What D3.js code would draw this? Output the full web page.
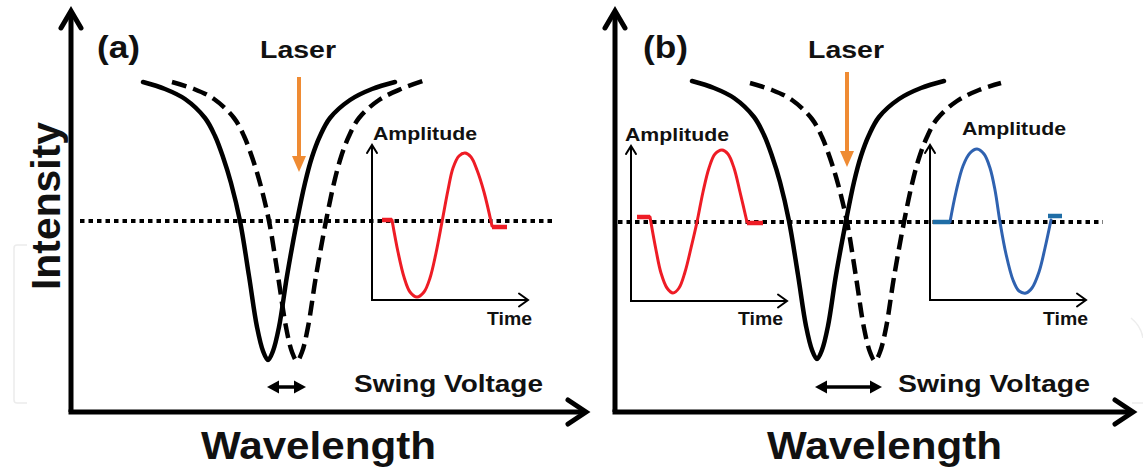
<!DOCTYPE html>
<html><head><meta charset="utf-8">
<script src="https://cdn.jsdelivr.net/npm/d3@7"></script>
<style>body{margin:0;background:#fff}svg{display:block}</style>
</head><body>
<svg id="c" width="1143" height="474"></svg>
<script>
// ---------- DATA (wavelength offset, intensity) ----------
const solidA = [[72,330],[94,323],[114,313],[134,294],[144,276],[152,255],[160,229],[169,191],[178,136],[186,85],[192,61],[197,52],[202,61],[208,85],[216,136],[226,191],[234,229],[241,255],[249,276],[259,294],[279,312],[301,323],[324,330]];
const dashedA = [[101,330],[123,323],[143,313],[163,294],[173,276],[181,255],[189,229],[198,191],[207,136],[215,85],[221,60],[226,51],[231,60],[237,85],[245,136],[255,191],[263,229],[270,255],[278,276],[288,294],[308,312],[330,323],[352,331]];
const solidB = [[77,331],[99,324],[119,314],[139,295],[149,277],[157,256],[165,230],[174,191],[183,137],[191,86],[197,62],[202,53],[207,62],[213,86],[221,137],[231,191],[239,230],[246,256],[254,277],[264,295],[284,313],[306,324],[329,331]];
const dashedB = [[135,329],[157,322],[177,312],[197,293],[207,275],[215,254],[223,228],[232,190],[241,135],[249,84],[255,60],[260,51],[265,60],[271,84],[279,135],[289,190],[297,228],[304,254],[312,275],[322,293],[342,311],[364,322],[386,329]];

// bias level (dotted line), laser position, swing range
const biasA = 191, biasB = 190;
const dottedA = [9, 484], dottedB = [3, 488];
const laserA = {wl: 228, from: 335, to: 240};
const laserB = {wl: 232, from: 340, to: 245};
const swingA = [196, 235], swingB = [200, 267];
const swingLevel = 25;

// inset waveforms (time offset, amplitude offset)
const waveA = [[20,80],[26,48],[32,23],[38,8],[45,3],[52,8],[58,22],[64,47],[70,78],[76,110],[81,132],[87,144],[93,147],[99,143],[105,130],[112,108],[120,74]];
const flatsA = [[[10,80],[20,80]], [[120,73],[135,73]]];
const waveBL = [[19,84],[25,51],[30,28],[36,13],[42,8],[48,13],[54,29],[60,53],[66,79],[72,109],[78,133],[84,147],[91,151],[97,147],[103,133],[109,109],[116,79]];
const flatsBL = [[[6,84],[19,84]], [[116,78],[132,78]]];
const waveBR = [[20,78],[26,108],[33,134],[40,147],[47,151],[54,146],[60,132],[65,110],[70,78],[76,46],[83,20],[89,9],[96,7],[102,12],[109,28],[115,52],[121,80]];
const flatsBR = [[[3,78],[20,78]], [[118,84],[132,84]]];

const labels = {panelA: "(a)", panelB: "(b)", laser: "Laser", amp: "Amplitude", time: "Time", swing: "Swing Voltage", xlab: "Wavelength", ylab: "Intensity"};

// ---------- DRAW ----------
const svg = d3.select('#c');
const FONT = '"Liberation Sans", Arial, Helvetica, sans-serif';
const RED = '#ee1c25', BLUE = '#2f62b0', BLUEF = '#1f6da6', ORANGE = '#ef8b33';

// faint scan artifacts at the edges
svg.append('path').attr('d','M27,245H17Q14,245 14,248V400Q14,403 17,403H27').attr('fill','none').attr('stroke','#ececec').attr('stroke-width',1.5);
svg.append('path').attr('d','M1131,318Q1141,326 1143,338').attr('fill','none').attr('stroke','#ededed').attr('stroke-width',1.5);
svg.append('path').attr('d','M1132,403H1143').attr('fill','none').attr('stroke','#ededed').attr('stroke-width',1.5);

function chevron(g, x, y, dir, len, half, w) {
  const d = dir === 'up' ? `M${x-half},${y+len}L${x},${y}L${x+half},${y+len}`
                         : `M${x-len},${y-half}L${x},${y}L${x-len},${y+half}`;
  g.append('path').attr('d', d).attr('fill','none').attr('stroke','#000')
    .attr('stroke-width', w).attr('stroke-linejoin','miter').attr('stroke-linecap','round');
}
function text(g, x, y, s, size, len, rot) {
  const t = g.append('text').attr('font-family', FONT).attr('font-weight','bold')
    .attr('font-size', size).attr('fill','#111').text(s)
    .attr('textLength', len).attr('lengthAdjust','spacingAndGlyphs');
  if (rot) t.attr('transform', `translate(${x},${y}) rotate(-90)`);
  else t.attr('x', x).attr('y', y);
  return t;
}

function panel(cfg) {
  const g = svg.append('g');
  const x = d3.scaleLinear().domain([0, cfg.xMax]).range([cfg.ox, cfg.ox + cfg.xMax]);
  const y = d3.scaleLinear().domain([0, 402]).range([412, 10]);
  // main axes
  g.append('line').attr('x1', x(0)).attr('y1', y(0)).attr('x2', x(0)).attr('y2', y(400)).attr('stroke','#000').attr('stroke-width',5);
  g.append('line').attr('x1', x(0)-2.5).attr('y1', y(0)).attr('x2', x(cfg.xMax)-3).attr('y2', y(0)).attr('stroke','#000').attr('stroke-width',5);
  chevron(g, x(0), y(402)+1, 'up', 17, 10, 5);
  chevron(g, x(cfg.xMax), y(0), 'right', 18, 12, 5);

  // dotted bias line
  g.append('line').attr('x1', x(cfg.dotted[0])).attr('x2', x(cfg.dotted[1]))
    .attr('y1', y(cfg.bias)).attr('y2', y(cfg.bias))
    .attr('stroke','#000').attr('stroke-width',4).attr('stroke-dasharray','4.5,4');

  const line = d3.line().x(d => x(d[0])).y(d => y(d[1])).curve(d3.curveCatmullRom.alpha(0.5));
  g.append('path').attr('d', line(cfg.solid)).attr('fill','none').attr('stroke','#000').attr('stroke-width',4.5).attr('stroke-linecap','round');
  g.append('path').attr('d', line(cfg.dashed)).attr('fill','none').attr('stroke','#000').attr('stroke-width',4.5).attr('stroke-dasharray','15,7');

  // laser arrow
  const lx = x(cfg.laser.wl), ly0 = y(cfg.laser.from), ly1 = y(cfg.laser.to);
  g.append('line').attr('x1', lx).attr('x2', lx).attr('y1', ly0).attr('y2', ly1 - 12).attr('stroke', ORANGE).attr('stroke-width',4);
  g.append('path').attr('d', `M${lx-7},${ly1-16}L${lx+7},${ly1-16}L${lx},${ly1}Z`).attr('fill', ORANGE);

  // swing double arrow
  const sx0 = x(cfg.swing[0]), sx1 = x(cfg.swing[1]), sy = y(swingLevel);
  g.append('line').attr('x1', sx0 + 8).attr('x2', sx1 - 8).attr('y1', sy).attr('y2', sy).attr('stroke','#000').attr('stroke-width',3.5);
  g.append('path').attr('d', `M${sx0},${sy}L${sx0+12},${sy-6.5}L${sx0+12},${sy+6.5}Z`).attr('fill','#000');
  g.append('path').attr('d', `M${sx1},${sy}L${sx1-12},${sy-6.5}L${sx1-12},${sy+6.5}Z`).attr('fill','#000');

  // texts
  text(g, cfg.labelX, 58, cfg.label, 32, cfg.labelLen);
  text(g, cfg.laserX, 58, labels.laser, 23, 76);
  text(g, cfg.swingX, 392, labels.swing, 24, cfg.swingLen);
  text(g, cfg.wlX, 459, labels.xlab, 38, 235);
  return g;
}

function inset(g, cfg) {
  const t = d3.scaleLinear().domain([0, 156]).range([cfg.ox, cfg.ox + 156]);
  const a = d3.scaleLinear().domain([0, 155]).range([cfg.oy, cfg.oy - 155]);
  g.append('line').attr('x1', t(0)).attr('x2', t(0)).attr('y1', a(0)).attr('y2', a(154)).attr('stroke','#000').attr('stroke-width',2);
  g.append('line').attr('x1', t(0)-1).attr('x2', t(155)).attr('y1', a(0)).attr('y2', a(0)).attr('stroke','#000').attr('stroke-width',2);
  chevron(g, t(0), a(155), 'up', 8, 5, 2);
  chevron(g, t(156), a(0), 'right', 9, 6.5, 2);
  const line = d3.line().x(d => t(d[0])).y(d => a(d[1])).curve(d3.curveCatmullRom.alpha(0.5));
  g.append('path').attr('d', line(cfg.wave)).attr('fill','none').attr('stroke', cfg.color).attr('stroke-width',3).attr('stroke-linecap','round');
  const flat = d3.line().x(d => t(d[0])).y(d => a(d[1]));
  cfg.flats.forEach(f => g.append('path').attr('d', flat(f)).attr('fill','none').attr('stroke', cfg.flatColor).attr('stroke-width',4.5));
  text(g, cfg.ampX, cfg.ampY, labels.amp, 18.5, 104);
  text(g, cfg.timeX, 325, labels.time, 18.5, 45);
}

const gA = panel({ox: 71, xMax: 515, solid: solidA, dashed: dashedA, bias: biasA, dotted: dottedA, laser: laserA, swing: swingA,
  label: labels.panelA, labelX: 97, labelLen: 43, laserX: 260, swingX: 354, swingLen: 189, wlX: 201});
inset(gA, {ox: 372, oy: 300, wave: waveA, flats: flatsA, color: RED, flatColor: RED, ampX: 373, ampY: 140, timeX: 487});

const gB = panel({ox: 615, xMax: 518, solid: solidB, dashed: dashedB, bias: biasB, dotted: dottedB, laser: laserB, swing: swingB,
  label: labels.panelB, labelX: 643, labelLen: 45, laserX: 808, swingX: 898, swingLen: 192, wlX: 767});
inset(gB, {ox: 631, oy: 301, wave: waveBL, flats: flatsBL, color: RED, flatColor: RED, ampX: 625, ampY: 141, timeX: 738});
inset(gB, {ox: 930, oy: 300, wave: waveBR, flats: flatsBR, color: BLUE, flatColor: BLUEF, ampX: 962, ampY: 135, timeX: 1043});

// y axis label
text(svg, 60, 290, labels.ylab, 40, 168, true);
</script>
</body></html>
